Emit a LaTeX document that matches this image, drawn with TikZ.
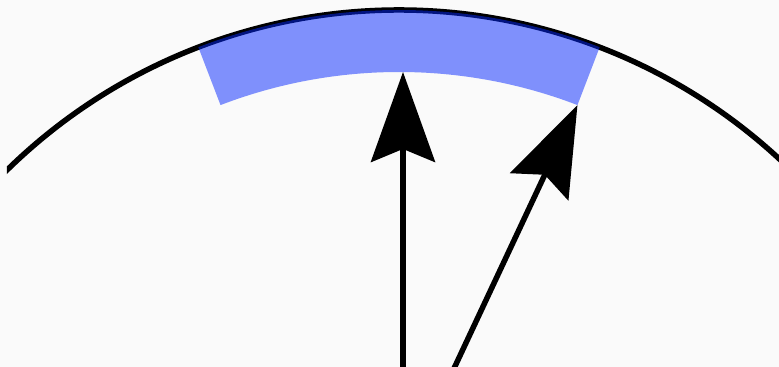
\documentclass[tikz,border=0pt]{standalone}
\usetikzlibrary{arrows.meta}
\definecolor{paper}{RGB}{250,250,250}
\definecolor{bandblue}{RGB}{5,40,255}
\tikzset{
  rim/.style={
    line width = 0.11cm
  },
  band/.style={
    fill = bandblue,
    fill opacity = 0.5
  },
  vec/.style={
    line width = 0.11cm,
    -{Stealth[length=1.8cm,width=1.28cm,inset=0.26cm]}
  },
}

\begin{document}
\begin{tikzpicture}[x=0.02cm,y=0.02cm]
\fill[paper] (0,0) rectangle (779,367);
\useasboundingbox (0,0) rectangle (779,367);
\clip (7,0) rectangle (779,367);
\coordinate (O) at (399,-203);
\coordinate (vtail) at (403,-10);
\coordinate (vtip) at (403,295);
\coordinate (stail) at (450,-10);
\coordinate (stip) at ([shift={(69:498)}]O);
\draw[rim] ([shift={(40:560)}]O) arc[start angle=40,end angle=140,radius=560];
\fill[band] ([shift={(69:560)}]O) arc[start angle=69,end angle=111,radius=560]
  -- ([shift={(111:498)}]O) arc[start angle=111,end angle=69,radius=498] -- cycle;
\foreach \a/\b in {vtail/vtip,stail/stip}{
  \draw[vec] (\a) -- (\b);
}
\end{tikzpicture}
\end{document}
